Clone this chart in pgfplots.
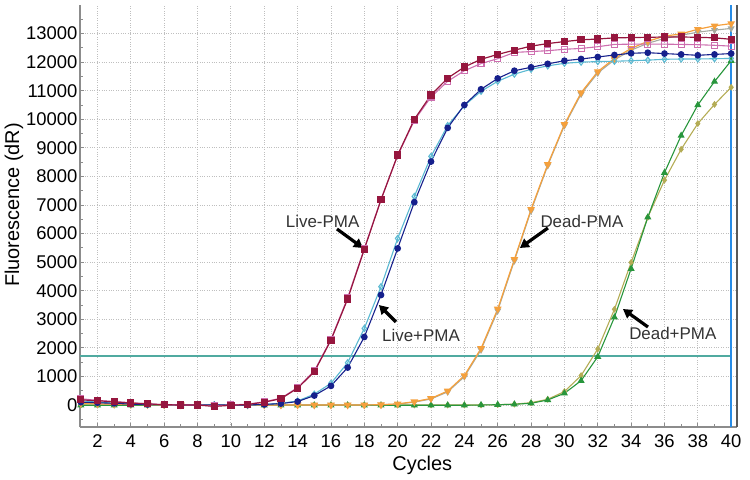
\documentclass[border=0pt]{standalone}
\usepackage{fontspec}
\setmainfont{Liberation Sans}
\usepackage{pgfplots}
\usepackage{pgfplotstable}
\pgfplotsset{compat=1.18}
\usetikzlibrary{arrows.meta}

\definecolor{cmaroon}{RGB}{150,22,62}
\definecolor{cpink}{RGB}{205,110,175}
\definecolor{cnavy}{RGB}{22,32,140}
\definecolor{ccyan}{RGB}{90,185,210}
\definecolor{corange}{RGB}{245,160,60}
\definecolor{ctan}{RGB}{165,170,160}
\definecolor{cgreen}{RGB}{40,150,60}
\definecolor{colive}{RGB}{180,172,85}
\definecolor{cthresh}{RGB}{80,170,160}
\definecolor{cvblue}{RGB}{40,140,230}
\definecolor{caxis}{RGB}{140,140,140}

% Live samples: c, Live-PMA (2 reps), Live+PMA (2 reps)
\pgfplotstableread{
c  lr     lp     lb     lc
1  180    220    100    150
2  150    160    80     100
3  110    120    60     70
4  70     80     30     40
5  40     40     20     20
6  10     10     10     10
7  0      0      0      0
8  0      0      0      0
9  -50    -30    0      0
10 -10    0      0      0
11 20     30     0      0
12 100    110    20     20
13 220    240    50     60
14 590    610    120    140
15 1160   1190   330    380
16 2270   2300   670    760
17 3710   3750   1310   1480
18 5450   5480   2380   2680
19 7180   7200   3850   4140
20 8750   8730   5480   5830
21 10000  9960   7100   7300
22 10850  10780  8520   8700
23 11440  11330  9700   9780
24 11830  11700  10500  10480
25 12100  11950  11050  10980
26 12270  12120  11430  11330
27 12420  12340  11700  11580
28 12560  12370  11820  11750
29 12650  12400  11940  11870
30 12720  12450  12050  11960
31 12780  12480  12110  12000
32 12810  12540  12180  12020
33 12850  12620  12250  12030
34 12860  12630  12310  12050
35 12870  12630  12330  12070
36 12880  12630  12300  12100
37 12880  12620  12270  12110
38 12870  12610  12240  12110
39 12850  12590  12270  12120
40 12800  12560  12300  12130
}\livetable

% Dead samples: c, Dead-PMA (2 reps), Dead+PMA (2 reps)
\pgfplotstableread{
c  dor    dta    dgr    dol
1  60     50     -10    0
2  40     40     -10    0
3  30     30     -10    0
4  20     20     -10    0
5  10     10     -10    0
6  0      0      -10    0
7  0      0      -10    0
8  0      0      -10    0
9  0      0      -10    0
10 0      0      -10    0
11 0      0      -10    0
12 0      0      -10    0
13 0      0      -10    0
14 0      0      -10    0
15 0      0      -10    0
16 0      0      -10    0
17 0      0      -10    0
18 0      0      -10    0
19 10     10     -10    0
20 40     30     -10    0
21 115    100    -10    0
22 230    210    -10    0
23 490    460    -10    0
24 1030   990    -10    0
25 1980   1930   0      0
26 3360   3300   10     10
27 5100   5050   25     30
28 6850   6800   60     80
29 8420   8380   175    200
30 9820   9780   410    470
31 10930  10880  850    1030
32 11670  11620  1690   1960
33 12130  12080  3070   3350
34 12480  12420  4770   4990
35 12730  12660  6570   6570
36 12910  12830  8130   7870
37 12990  12940  9430   8950
38 13150  13050  10500  9850
39 13270  13120  11320  10520
40 13350  13180  12050  11120
}\deadtable

\begin{document}
\begin{tikzpicture}
\begin{axis}[
  at={(80bp,53bp)}, anchor=south west,
  scale only axis, width=657bp, height=422bp,
  xmin=0.95, xmax=40.35, ymin=-770, ymax=14000,
  axis x line*=bottom, axis y line*=left,
  axis line style={caxis, line width=2bp, -},
  xtick={2,4,...,40}, minor xtick={1,3,...,39},
  ytick={0,1000,...,13000}, minor ytick={-500,500,...,13500},
  tick align=inside,
  major tick length=4bp, minor tick length=3bp,
  tick style={caxis, line width=0.8bp},
  grid=major,
  major grid style={dotted, gray!50, line width=0.9bp},
  /pgf/number format/assume math mode=true,
  /pgf/number format/set thousands separator={},
  scaled y ticks=false,
  tick label style={font=\fontsize{18.5}{20}\selectfont, black},
  yticklabel style={xshift=1bp},
  xticklabel style={yshift=-4bp},
  xlabel={Cycles},
  ylabel={Fluorescence (dR)},
  label style={font=\fontsize{20}{22}\selectfont, black},
  x label style={at={(axis description cs:0.521,0)}, anchor=north, yshift=-26bp},
  y label style={at={(axis description cs:0,0.526)}, anchor=center, yshift=66bp},
  clip=false,
]
% threshold
\addplot[cthresh, line width=1.3bp] coordinates {(0.95,1720) (40,1720)};

% Dead+PMA
\addplot[colive, line width=1.1bp, mark=diamond*, mark size=2.6bp, mark options={fill=colive}] table[x=c,y=dol]{\deadtable};
\addplot[cgreen, line width=1.1bp, mark=triangle*, mark size=3bp, mark options={fill=cgreen}] table[x=c,y=dgr]{\deadtable};
% Dead-PMA
\addplot[ctan, line width=1.1bp, mark=triangle*, mark size=3bp, mark options={fill=ctan, rotate=180}] table[x=c,y=dta]{\deadtable};
\addplot[corange, line width=1.2bp, mark=triangle*, mark size=3.3bp, mark options={fill=corange, rotate=180}] table[x=c,y=dor]{\deadtable};
% Live+PMA
\addplot[ccyan, line width=1.1bp, mark=diamond, mark size=3bp, mark options={fill=white}] table[x=c,y=lc]{\livetable};
\addplot[cnavy, line width=1.1bp, mark=*, mark size=2.8bp, mark options={fill=cnavy}] table[x=c,y=lb]{\livetable};
% Live-PMA
\addplot[cpink, line width=1.1bp, mark=square, mark size=3bp, mark options={fill=white}] table[x=c,y=lp]{\livetable};
\addplot[cmaroon, line width=1.2bp, mark=square*, mark size=3bp, mark options={fill=cmaroon}] table[x=c,y=lr]{\livetable};

% vertical blue line
\addplot[cvblue, line width=2bp] coordinates {(40,-770) (40,14000)};
\draw[black!65, line width=1.5bp] (rel axis cs:1,0) -- (rel axis cs:1,1);

% annotations
\tikzset{ann/.style={font=\fontsize{17}{19}\selectfont, text=black!80},
         arr/.style={-{Triangle[length=9bp,width=10bp]}, line width=3.2bp, black}}
\node[ann] at (axis cs:15.5,6440) {Live-PMA};
\draw[arr] (axis cs:16.36,6160) -- (axis cs:17.92,5495);
\node[ann] at (axis cs:21.4,2450) {Live+PMA};
\draw[arr] (axis cs:19.9,2905) -- (axis cs:18.88,3500);
\node[ann] at (axis cs:31.05,6440) {Dead-PMA};
\draw[arr] (axis cs:29.01,6195) -- (axis cs:27.33,5495);
\node[ann] at (axis cs:36.5,2510) {Dead+PMA};
\draw[arr] (axis cs:35.01,2730) -- (axis cs:33.51,3360);
\end{axis}
\path[use as bounding box] (0bp,0bp) rectangle (750bp,480bp);
\end{tikzpicture}
\end{document}
